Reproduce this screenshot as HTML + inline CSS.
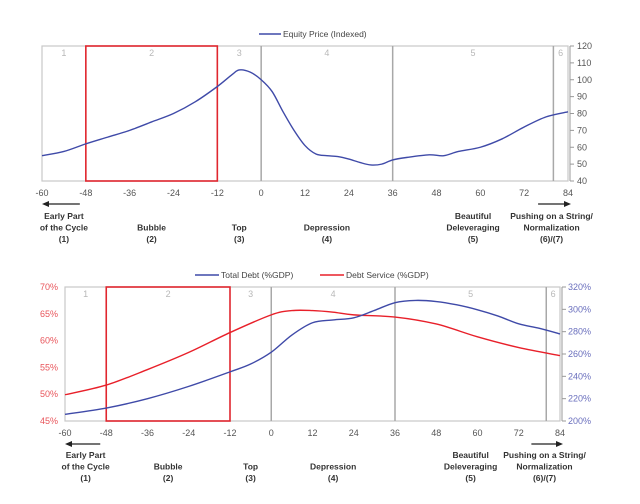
<!DOCTYPE html>
<html><head><meta charset="utf-8"><style>
body{margin:0;background:#fff;width:640px;height:499px;overflow:hidden;font-family:"Liberation Sans",sans-serif}
svg text{font-family:"Liberation Sans",sans-serif}
</style></head><body>
<svg id="c" width="640" height="499" viewBox="0 0 640 499" xmlns="http://www.w3.org/2000/svg"></svg>
<script>
const months=[-60,-48,-36,-24,-12,0,12,24,36,48,60,72,84];
const eqMonths=[-60,-54,-48,-42,-36,-30,-24,-18,-12,-8,-6,-3,0,3,6,9,12,15,18,21,24,27,30,33,36,40,46,50,54,60,66,72,78,84];
const eqValues=[55,57.5,62,66,70,75,80,87,96,103,105.8,104.5,100,93,81,70,61,56,55,54.5,53,51,49.5,50,52.5,54,55.5,55,57.5,60,65,72,78,81];
const eqTicks=[40,50,60,70,80,90,100,110,120];
const debtMonths=[-60,-48,-36,-24,-12,-6,0,6,12,18,24,30,36,42,48,54,60,66,72,78,84];
const totalDebt=[206,211.6,220,231,244,251,261.6,277,288,290.5,292.4,299,306,308,307,304,299.6,294,287,283,278];
const serviceMonths=[-60,-48,-36,-24,-12,0,6,12,18,24,36,48,60,72,84];
const debtService=[49.9,51.7,54.6,57.8,61.5,64.8,65.6,65.6,65.3,64.8,64.4,63.1,60.7,58.7,57.2];
const leftTicks=[45,50,55,60,65,70];
const rightTicks=[200,220,240,260,280,300,320];
const phases=[["1",-54],["2",-30],["3",-6],["4",18],["5",58],["6",82]];
const cats=[[-54,["Early Part","of the Cycle","(1)"]],[-30,["","Bubble","(2)"]],[-6,["","Top","(3)"]],[18,["","Depression","(4)"]],[58,["Beautiful","Deleveraging","(5)"]],[79.5,["Pushing on a String/","Normalization","(6)/(7)"]]];
const svg=document.getElementById('c');const NS='http://www.w3.org/2000/svg';
function el(t,a,txt){const e=document.createElementNS(NS,t);for(const k in a)e.setAttribute(k,a[k]);if(txt!==undefined)e.textContent=txt;svg.appendChild(e);return e;}
function smooth(p){let d=`M${p[0][0]},${p[0][1]}`;for(let i=0;i<p.length-1;i++){const p0=p[i-1]||p[i],p1=p[i],p2=p[i+1],p3=p[i+2]||p2;d+=` C${p1[0]+(p2[0]-p0[0])/6},${p1[1]+(p2[1]-p0[1])/6} ${p2[0]-(p3[0]-p1[0])/6},${p2[1]-(p3[1]-p1[1])/6} ${p2[0]},${p2[1]}`;}return d;}
function panel(o){
 const X=m=>o.x0+(m+60)/144*(o.x1-o.x0);
 let e;
 e=el('rect',{x:o.x0,y:o.top,width:o.x1-o.x0,height:o.bot-o.top,fill:'none',stroke:'#c8c8c8','stroke-width':1.2});
 
 [0,36,80].forEach(m=>{e=el('line',{x1:X(m),x2:X(m),y1:o.top,y2:o.bot,stroke:'#a8a8a8','stroke-width':1.5});});
 e=el('rect',{x:X(-48),y:o.top,width:X(-12)-X(-48),height:o.bot-o.top,fill:'none',stroke:'#e0262e','stroke-width':1.6});
 
 phases.forEach(ph=>{e=el('text',{x:X(ph[1]),y:o.top+10,'font-size':9,fill:'#b8b8b8','text-anchor':'middle'},ph[0]);});
 months.forEach(m=>{e=el('text',{x:X(m),y:o.bot+15,'font-size':9,fill:'#555','text-anchor':'middle'},String(m));});
 e=el('line',{x1:X(-48)-6,x2:X(-60)+4,y1:o.ar,y2:o.ar,stroke:'#222','stroke-width':1.2});
 e=el('polygon',{points:`${X(-60)},${o.ar} ${X(-60)+7},${o.ar-3} ${X(-60)+7},${o.ar+3}`,fill:'#222'});
 e=el('line',{x1:X(78)-8,x2:X(84)-2,y1:o.ar,y2:o.ar,stroke:'#222','stroke-width':1.2});
 e=el('polygon',{points:`${X(84)+3},${o.ar} ${X(84)-4},${o.ar-3} ${X(84)-4},${o.ar+3}`,fill:'#222'});
 cats.forEach(c=>{c[1].forEach((t,i)=>{if(!t)return;e=el('text',{x:X(c[0]),y:o.cy+i*11.5,'font-size':8.5,'font-weight':'bold',fill:'#333','text-anchor':'middle'},t);});});
 return X;
}
const o1={p:'equity',x0:42,x1:568,top:46,bot:181,ar:204,cy:219};
const X1=panel(o1);
const Y1=v=>181-(v-40)/80*135;
let e;
eqTicks.forEach(t=>{e=el('line',{x1:570,x2:574,y1:Y1(t),y2:Y1(t),stroke:'#999'});
 e=el('text',{x:577,y:Y1(t)+3,'font-size':9,fill:'#555'},String(t));});
e=el('line',{x1:570,x2:570,y1:46,y2:181,stroke:'#999'});
e=el('path',{d:smooth(eqMonths.map((m,i)=>[X1(m),Y1(eqValues[i])])),fill:'none',stroke:'#3f4aa8','stroke-width':1.4});

e=el('line',{x1:259,x2:281,y1:34,y2:34,stroke:'#3f4aa8','stroke-width':1.5});
e=el('text',{x:283,y:37,'font-size':8.5,fill:'#444'},'Equity Price (Indexed)');
const o2={p:'debt',x0:65,x1:560,top:287,bot:421,ar:444,cy:458};
const X2=panel(o2);
const YL=v=>421-(v-45)/25*134, YR=v=>421-(v-200)/120*134;
leftTicks.forEach(t=>{e=el('text',{x:58,y:YL(t)+3,'font-size':9,fill:'#e8545a','text-anchor':'end'},t+'%');});
rightTicks.forEach(t=>{e=el('line',{x1:562,x2:566,y1:YR(t),y2:YR(t),stroke:'#999'});
 e=el('text',{x:568,y:YR(t)+3,'font-size':9,fill:'#6a6fbd'},t+'%');});
e=el('line',{x1:562,x2:562,y1:287,y2:421,stroke:'#999'});
e=el('path',{d:smooth(serviceMonths.map((m,i)=>[X2(m),YL(debtService[i])])),fill:'none',stroke:'#e8202a','stroke-width':1.4});

e=el('path',{d:smooth(debtMonths.map((m,i)=>[X2(m),YR(totalDebt[i])])),fill:'none',stroke:'#3f4aa8','stroke-width':1.4});

e=el('line',{x1:195,x2:219,y1:275,y2:275,stroke:'#3f4aa8','stroke-width':1.5});
e=el('text',{x:221,y:278,'font-size':8.5,fill:'#444'},'Total Debt (%GDP)');
e=el('line',{x1:320,x2:344,y1:275,y2:275,stroke:'#e8202a','stroke-width':1.5});
e=el('text',{x:346,y:278,'font-size':8.5,fill:'#444'},'Debt Service (%GDP)');
</script>
</body></html>
